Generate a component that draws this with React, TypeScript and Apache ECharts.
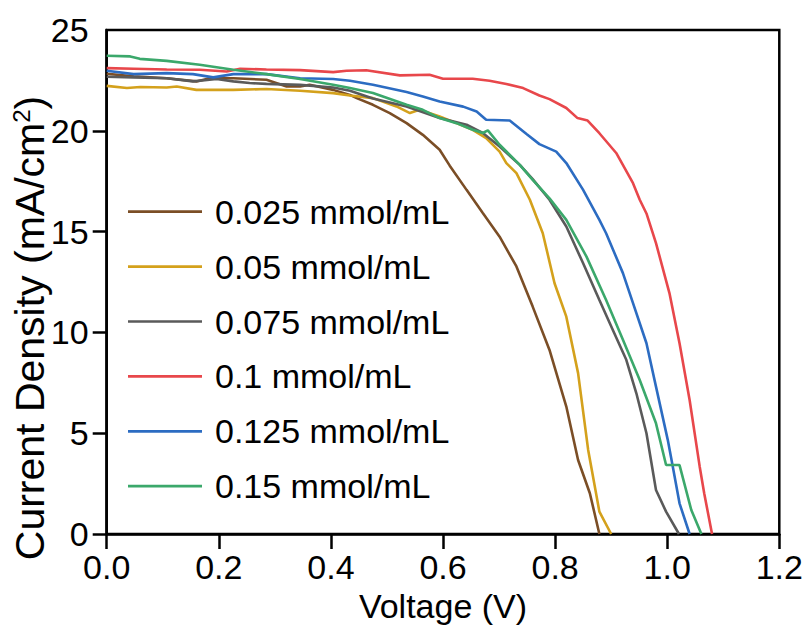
import React, { useEffect, useRef } from "react";
import * as echarts from "echarts";

// Voltage (V), current density (mA/cm2) pairs
const s025: [number, number][] = [
  [0, 22.83], [0.048, 22.7], [0.107, 22.61], [0.16, 22.45], [0.184, 22.61], [0.226, 22.61],
  [0.285, 22.53], [0.321, 22.2], [0.345, 22.2], [0.362, 22.28], [0.404, 22.03], [0.434, 21.78],
  [0.446, 21.62], [0.475, 21.29], [0.505, 20.88], [0.535, 20.38], [0.564, 19.8], [0.594, 19.06],
  [0.612, 18.27], [0.642, 17.07], [0.671, 15.92], [0.701, 14.75], [0.731, 13.27], [0.76, 11.28],
  [0.79, 9.13], [0.82, 6.32], [0.841, 3.67], [0.862, 2.02], [0.879, 0],
];
const s05: [number, number][] = [
  [0, 22.23], [0.036, 22.12], [0.06, 22.17], [0.107, 22.15], [0.125, 22.2], [0.16, 22.03],
  [0.226, 22.03], [0.285, 22.07], [0.345, 21.99], [0.404, 21.87], [0.434, 21.75], [0.475, 21.62],
  [0.517, 21.21], [0.541, 20.88], [0.558, 21.04], [0.594, 20.71], [0.624, 20.38], [0.653, 20.05],
  [0.677, 19.64], [0.701, 18.97], [0.713, 18.4], [0.731, 17.9], [0.755, 16.58], [0.778, 14.92],
  [0.799, 12.44], [0.82, 10.78], [0.841, 7.98], [0.859, 4.17], [0.879, 1.11], [0.9, 0],
];
const s075: [number, number][] = [
  [0, 22.68], [0.048, 22.65], [0.107, 22.61], [0.154, 22.45], [0.196, 22.57], [0.226, 22.45],
  [0.255, 22.37], [0.285, 22.33], [0.345, 22.28], [0.404, 22.15], [0.434, 21.99], [0.475, 21.6],
  [0.535, 21.2], [0.594, 20.63], [0.642, 20.3], [0.671, 19.89], [0.701, 19.22], [0.737, 18.31],
  [0.76, 17.6], [0.79, 16.58], [0.82, 15.25], [0.85, 13.43], [0.879, 11.61], [0.903, 10.12],
  [0.927, 8.64], [0.945, 6.98], [0.963, 5.0], [0.98, 2.18], [0.998, 1.11], [1.021, 0],
];
const s1: [number, number][] = [
  [0, 23.11], [0.048, 23.08], [0.107, 23.04], [0.166, 23.03], [0.214, 22.94], [0.238, 23.08],
  [0.285, 23.04], [0.345, 23.01], [0.404, 22.91], [0.428, 22.98], [0.463, 23.0], [0.523, 22.75],
  [0.576, 22.78], [0.6, 22.58], [0.653, 22.58], [0.683, 22.48], [0.713, 22.32], [0.743, 22.12],
  [0.772, 21.75], [0.79, 21.57], [0.82, 21.13], [0.84, 20.63], [0.858, 20.51], [0.879, 19.88],
  [0.909, 18.9], [0.939, 17.4], [0.951, 16.58], [0.963, 15.9], [0.98, 14.43], [1.004, 11.95],
  [1.022, 9.46], [1.04, 6.65], [1.058, 3.34], [1.066, 2.02], [1.08, 0],
];
const s125: [number, number][] = [
  [0, 22.98], [0.048, 22.81], [0.107, 22.86], [0.154, 22.81], [0.19, 22.65], [0.226, 22.81],
  [0.285, 22.81], [0.345, 22.61], [0.404, 22.57], [0.434, 22.48], [0.475, 22.28], [0.535, 21.92],
  [0.564, 21.7], [0.594, 21.45], [0.636, 21.2], [0.66, 20.96], [0.677, 20.55], [0.719, 20.51],
  [0.749, 19.84], [0.772, 19.34], [0.802, 18.97], [0.82, 18.4], [0.85, 17.07], [0.879, 15.58],
  [0.891, 14.92], [0.921, 12.94], [0.939, 11.45], [0.963, 9.46], [0.98, 7.31], [1.001, 4.67],
  [1.01, 3.34], [1.022, 1.52], [1.04, 0],
];
const s15: [number, number][] = [
  [0, 23.72], [0.042, 23.69], [0.059, 23.57], [0.107, 23.47], [0.166, 23.28], [0.226, 23.03],
  [0.285, 22.81], [0.345, 22.57], [0.404, 22.28], [0.434, 22.12], [0.475, 21.87], [0.535, 21.29],
  [0.564, 21.04], [0.594, 20.63], [0.624, 20.38], [0.653, 20.05], [0.671, 19.89], [0.68, 20.02],
  [0.701, 19.31], [0.737, 18.31], [0.76, 17.57], [0.79, 16.65], [0.82, 15.58], [0.856, 13.76],
  [0.891, 11.61], [0.921, 9.63], [0.951, 7.64], [0.98, 5.49], [0.998, 3.42], [1.022, 3.42],
  [1.043, 1.19], [1.061, 0],
];

const seriesNames = [
  "0.025 mmol/mL",
  "0.05 mmol/mL",
  "0.075 mmol/mL",
  "0.1 mmol/mL",
  "0.125 mmol/mL",
  "0.15 mmol/mL",
];
const seriesData = [s025, s05, s075, s1, s125, s15];
const seriesColors = ["#7B4E26", "#D4A11C", "#5A5A5A", "#E8474B", "#2C6CC2", "#3BA86B"];

const yTickValues = [0, 5, 10, 15, 20];
const yLabelValues = [0, 5, 10, 15, 20, 25];

const FONT = "'Liberation Sans', Arial, Helvetica, sans-serif";

export default function App() {
  const ref = useRef<HTMLDivElement>(null);
  useEffect(() => {
    if (!ref.current) return;
    const chart = echarts.init(ref.current, null, { renderer: "svg" });
    chart.setOption({
      animation: false,
      backgroundColor: "#fff",
      grid: {
        left: 106.7,
        right: 27.7,
        top: 30,
        bottom: 96,
        containLabel: false,
        outerBoundsMode: "none",
        show: true,
        borderColor: "#000",
        borderWidth: 2.5,
        backgroundColor: "transparent",
      },
      legend: {
        orient: "vertical",
        left: 123,
        top: 189.7,
        icon: "rect",
        itemWidth: 74,
        itemHeight: 2.7,
        itemGap: 20.9,
        data: seriesNames,
        textStyle: {
          fontFamily: FONT,
          fontSize: 34,
          lineHeight: 34,
          color: "#000",
          padding: [0, 0, 0, 8],
        },
      },
      xAxis: {
        type: "value",
        min: 0,
        max: 1.2,
        interval: 0.2,
        name: "Voltage (V)",
        nameLocation: "middle",
        nameGap: 55,
        nameMoveOverlap: false,
        nameTextStyle: { fontFamily: FONT, fontSize: 34, color: "#000" },
        axisLine: { show: true, onZero: false, lineStyle: { color: "#000", width: 2.5 } },
        axisTick: { show: true, inside: false, length: 15, lineStyle: { color: "#000", width: 2.5 } },
        axisLabel: {
          color: "#000",
          fontFamily: FONT,
          fontSize: 34,
          margin: 16,
          formatter: (v: number) => v.toFixed(1),
        },
        splitLine: { show: false },
      },
      yAxis: {
        type: "value",
        min: 0,
        max: 25,
        interval: 5,
        name: "{a|Current Density (mA/cm}{s|2}{a|)}",
        nameLocation: "middle",
        nameGap: 56,
        nameMoveOverlap: false,
        nameTextStyle: {
          padding: [0, 92, 0, 0],
          rich: {
            a: { fontFamily: FONT, fontSize: 41, lineHeight: 41, color: "#000" },
            s: { fontFamily: FONT, fontSize: 24, lineHeight: 24, color: "#000", verticalAlign: "top" },
          },
        },
        axisLine: { show: true, onZero: false, lineStyle: { color: "#000", width: 2.5 } },
        axisTick: {
          show: true,
          inside: false,
          length: 14,
          customValues: yTickValues,
          lineStyle: { color: "#000", width: 2.5 },
        },
        axisLabel: {
          color: "#000",
          fontFamily: FONT,
          fontSize: 34,
          margin: 18,
          customValues: yLabelValues,
        },
        splitLine: { show: false },
      },
      series: seriesNames.map((name, i) => ({
        name,
        type: "line",
        data: seriesData[i],
        symbol: "none",
        smooth: false,
        color: seriesColors[i],
        lineStyle: { color: seriesColors[i], width: 2.6 },
      })),
    });
    return () => chart.dispose();
  }, []);
  return (
    <div
      ref={ref}
      style={{ position: "fixed", left: 0, top: 0, width: 807, height: 630, background: "#fff" }}
    />
  );
}
